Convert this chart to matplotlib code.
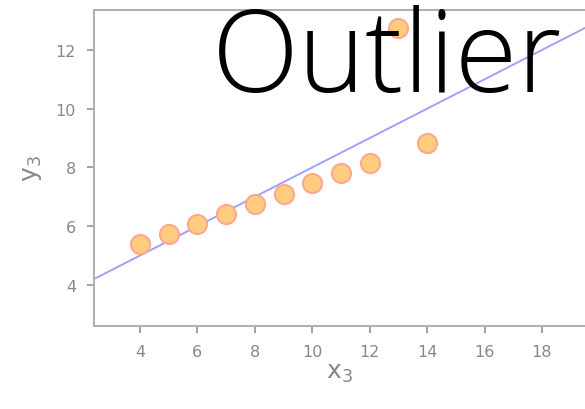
import matplotlib
matplotlib.use("Agg")
import matplotlib.pyplot as plt
import numpy as np

# Anscombe's quartet, set III
x3 = [10, 8, 13, 9, 11, 14, 6, 4, 12, 7, 5]
y3 = [7.46, 6.77, 12.74, 7.11, 7.81, 8.84, 6.08, 5.39, 8.15, 6.42, 5.73]
x_ticks = [4, 6, 8, 10, 12, 14, 16, 18]
y_ticks = [4, 6, 8, 10, 12]
fit_intercept = 3.0
fit_slope = 0.5

fig = plt.figure(figsize=(5.85, 4.1), dpi=100)
ax = fig.add_axes([0.1607, 0.2024, 0.8393, 0.7707])

xlim = (2.4, 19.5)
ax.set_xlim(*xlim)
ax.set_ylim(2.6, 13.36)

xs = np.array(xlim)
ax.plot(xs, fit_intercept + fit_slope * xs, color="#a0a0ff", lw=1.4, zorder=1)
ax.scatter(x3, y3, s=190, color="#ffcc80", edgecolors="#ffa890", linewidths=1.5, zorder=2)

ax.set_xticks(x_ticks)
ax.set_yticks(y_ticks)
ax.tick_params(colors="#999999", labelcolor="#888888", labelsize=11.5, direction="out", length=5, width=1.3, pad=8)
for s in ["left", "bottom", "top"]:
    ax.spines[s].set_color("#b0b0b0")
    ax.spines[s].set_linewidth(1.5)
ax.spines["right"].set_visible(False)

ax.set_xlabel(r"$\mathregular{x_3}$", fontsize=18, color="#888888", labelpad=1)
ax.set_ylabel(r"$\mathregular{y_3}$", fontsize=18, color="#888888", labelpad=8)

fig.text(0.362, (410 - 92) / 410, "Outlier", fontsize=82, family="Open Sans", weight="light",
         color="black", va="baseline", zorder=5)

fig.savefig("out.png", dpi=100)
